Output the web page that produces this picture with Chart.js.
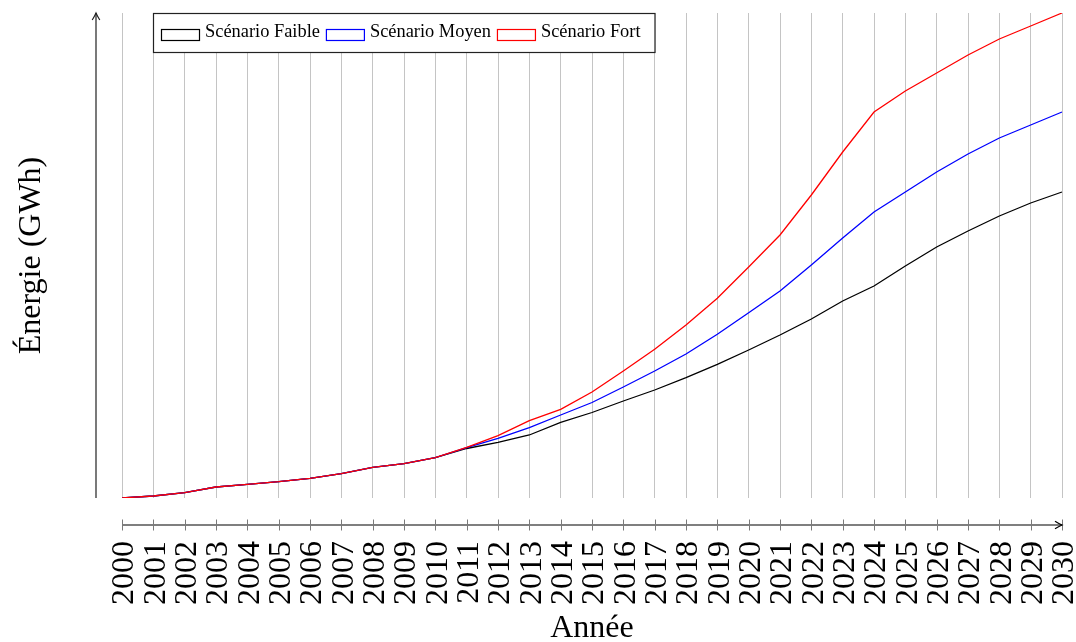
<!DOCTYPE html>
<html>
<head>
<meta charset="utf-8">
<script src="https://cdn.jsdelivr.net/npm/chart.js@4/dist/chart.umd.min.js"></script>
<style>
html,body{margin:0;padding:0;background:#fff;}
#wrap{width:1076px;height:642px;}
</style>
</head>
<body>
<div id="wrap"><canvas id="c" width="1076" height="642"></canvas></div>
<script>
const years = ['2000','2001','2002','2003','2004','2005','2006','2007','2008','2009','2010','2011','2012','2013','2014','2015','2016','2017','2018','2019','2020','2021','2022','2023','2024','2025','2026','2027','2028','2029','2030'];
const faible = [0, 2, 5.3, 11, 13.7, 16.3, 19.7, 24.3, 30.7, 34.3, 40.3, 49.5, 55.7, 63, 75.7, 85.5, 97, 108, 120.3, 133.7, 148, 163, 179, 197, 212, 232, 251, 267, 282, 295, 306];
const moyen = [0, 2, 5.3, 11, 13.7, 16.3, 19.7, 24.3, 30.7, 34.3, 40.3, 50.3, 59.7, 70.3, 83, 95.5, 111, 127, 144, 163.7, 185.3, 207, 233, 260, 286, 306, 326, 344, 360, 373, 386];
const fort = [0, 2, 5.3, 11, 13.7, 16.3, 19.7, 24.3, 30.7, 34.3, 40.3, 50.7, 62.3, 77.3, 88.7, 106, 127, 148.7, 173, 199.7, 231, 263, 303, 346, 386, 407, 425, 443, 459, 472, 485];
const seriesNames = ['Scénario Faible', 'Scénario Moyen', 'Scénario Fort'];
const seriesColors = ['#000000', '#0000ff', '#ff0000'];
const yTitle = 'Énergie (GWh)';
const xTitle = 'Année';

const SERIF = '"Liberation Serif", "DejaVu Serif", serif';

function arrowHead(ctx, x, y, angle) {
  ctx.save();
  ctx.translate(x, y);
  ctx.rotate(angle);
  ctx.beginPath();
  ctx.moveTo(-7, -3.8);
  ctx.quadraticCurveTo(-2.5, -1, 0, 0);
  ctx.quadraticCurveTo(-2.5, 1, -7, 3.8);
  ctx.stroke();
  ctx.restore();
}

const decor = {
  id: 'decor',
  afterDraw(chart) {
    const ctx = chart.ctx;
    const xs = chart.scales.x;
    const ys = chart.scales.y;
    const area = chart.chartArea;
    ctx.save();
    // y axis (detached, with arrow)
    const yAxisX = area.left - 26;
    ctx.strokeStyle = '#202020';
    ctx.lineWidth = 1.2;
    ctx.beginPath();
    ctx.moveTo(yAxisX, ys.getPixelForValue(0));
    ctx.lineTo(yAxisX, area.top);
    ctx.stroke();
    arrowHead(ctx, yAxisX, area.top, -Math.PI / 2);
    // x axis (detached, with arrow)
    const xAxisY = area.bottom + 27;
    const x0 = xs.getPixelForValue(0);
    const x1 = xs.getPixelForValue(years.length - 1);
    ctx.strokeStyle = '#000';
    ctx.lineWidth = 1.2;
    ctx.beginPath();
    ctx.moveTo(x0, xAxisY);
    ctx.lineTo(x1, xAxisY);
    ctx.stroke();
    // tick marks
    ctx.strokeStyle = '#7a7a7a';
    ctx.lineWidth = 1;
    for (let i = 0; i < years.length; i++) {
      const px = Math.round(xs.getPixelForValue(i)) + 0.5;
      ctx.beginPath();
      ctx.moveTo(px, xAxisY - 5.5);
      ctx.lineTo(px, xAxisY + 5.5);
      ctx.stroke();
    }
    ctx.strokeStyle = '#000';
    ctx.lineWidth = 1.2;
    arrowHead(ctx, x1, xAxisY, 0);

    // legend box
    ctx.font = '18.4px ' + SERIF;
    ctx.textBaseline = 'alphabetic';
    const ds = chart.data.datasets;
    const boxL = area.left + 31, boxT = area.top, boxH = 39;
    let x = boxL + 8;
    const items = [];
    for (const d of ds) {
      const w = ctx.measureText(d.label).width;
      items.push({x: x, w: w, d: d});
      x += 38 + 6 + w + 6;
    }
    const boxR = x - 6 + 14;
    ctx.fillStyle = '#fff';
    ctx.fillRect(boxL, boxT, boxR - boxL, boxH);
    ctx.strokeStyle = '#222';
    ctx.lineWidth = 1.2;
    ctx.strokeRect(boxL + 0.5, boxT + 0.5, boxR - boxL, boxH);
    for (const it of items) {
      ctx.strokeStyle = it.d.borderColor;
      ctx.lineWidth = 1.2;
      ctx.strokeRect(it.x + 0.5, boxT + 16.5, 38, 11);
      ctx.fillStyle = '#000';
      ctx.fillText(it.d.label, it.x + 44, boxT + 24);
    }
    ctx.restore();
  }
};

new Chart(document.getElementById('c'), {
  type: 'line',
  data: {
    labels: years,
    datasets: [
      {label: seriesNames[0], data: faible, borderColor: seriesColors[0], order: 2},
      {label: seriesNames[1], data: moyen, borderColor: seriesColors[1], order: 1},
      {label: seriesNames[2], data: fort, borderColor: seriesColors[2], order: 0}
    ]
  },
  options: {
    responsive: false,
    animation: false,
    devicePixelRatio: 1,
    elements: {
      line: {borderWidth: 1.3, tension: 0, fill: false},
      point: {radius: 0, hoverRadius: 0}
    },
    layout: {padding: {left: 0, right: 14, top: 13, bottom: 0}},
    plugins: {legend: {display: false}, tooltip: {enabled: false}},
    scales: {
      x: {
        type: 'category',
        offset: false,
        grid: {display: true, color: '#c4c4c4', lineWidth: 1, drawTicks: false},
        border: {display: false},
        ticks: {
          autoSkip: false, maxRotation: 90, minRotation: 90, padding: 43, labelOffset: 3,
          color: '#000', font: {family: SERIF, size: 32}
        },
        title: {
          display: true, text: xTitle, color: '#000',
          font: {family: SERIF, size: 32, lineHeight: 0.85},
          padding: {top: 0, bottom: 0}
        },
        afterFit(s) { s.height = 144; s.paddingLeft = 0; s.paddingRight = 0; }
      },
      y: {
        min: 0, max: 485,
        grid: {display: false},
        border: {display: false},
        ticks: {display: false},
        title: {
          display: true, text: yTitle, color: '#000',
          font: {family: SERIF, size: 32, lineHeight: 1.2},
          padding: {top: 12, bottom: 0}
        },
        afterFit(s) { s.width = 122; s.paddingTop = 0; s.paddingBottom = 0; }
      }
    }
  },
  plugins: [decor]
});
</script>
</body>
</html>
